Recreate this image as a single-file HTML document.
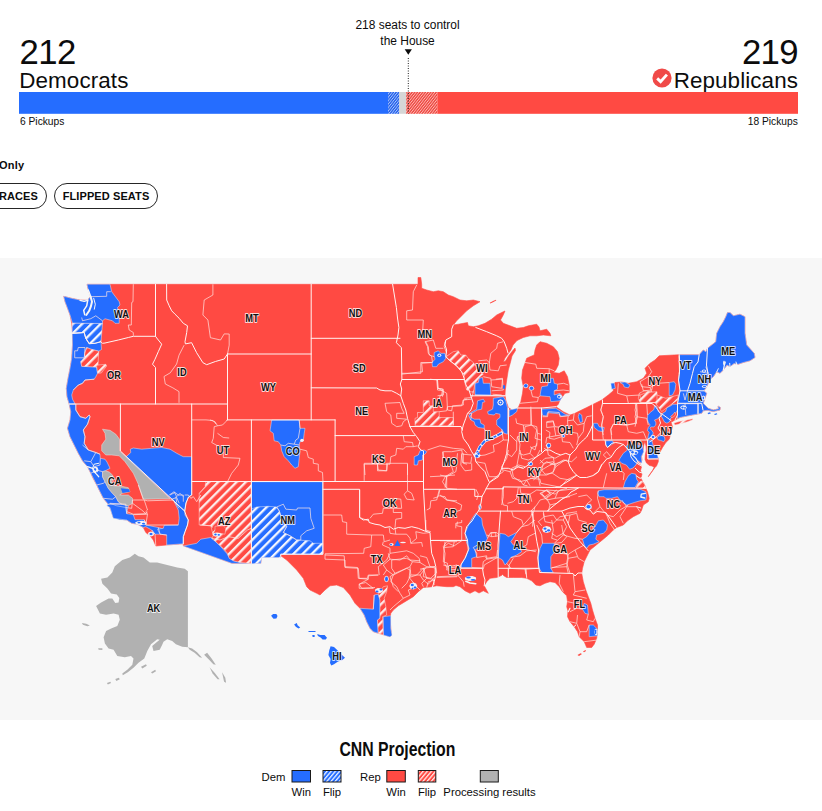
<!DOCTYPE html>
<html><head><meta charset="utf-8"><title>House results</title>
<style>
html,body{margin:0;padding:0;background:#fff;}
body{width:822px;height:811px;position:relative;overflow:hidden;font-family:"Liberation Sans",sans-serif;color:#0c0c0c;}
.abs{position:absolute;white-space:nowrap;}
.num{font-size:34.7px;line-height:34px;letter-spacing:-0.6px;}
.party{font-size:22.4px;line-height:22px;letter-spacing:0.1px;}
.small{font-size:11px;line-height:11px;transform-origin:0 0;}
.btn{position:absolute;top:182.5px;height:24px;border:1px solid #262626;border-radius:13px;font-weight:bold;font-size:11px;line-height:24px;letter-spacing:0.1px;box-sizing:content-box;text-align:center;}
</style></head><body>
<!-- header -->
<div class="abs num" style="left:19.5px;top:34.6px;">212</div>
<div class="abs party" style="left:19.3px;top:70px;">Democrats</div>
<div class="abs num" style="right:24px;top:34.6px;">219</div>
<div class="abs party" style="right:24px;top:70px;">Republicans</div>
<svg class="abs" style="left:651.7px;top:68px" width="20" height="20" viewBox="0 0 20 20"><circle cx="10" cy="10" r="9.6" fill="#f04a48"/><path d="M5.2 10.4 L8.6 13.6 L14.9 6.6" fill="none" stroke="#fff" stroke-width="2.9" stroke-linecap="butt" stroke-linejoin="miter"/></svg>
<div class="abs" id="ctl" style="left:308px;width:200px;top:18px;text-align:center;font-size:12.5px;line-height:15.8px;white-space:normal;"><span style="display:inline-block;transform:scaleX(0.955);">218 seats to control<br>the House</span></div>
<svg class="abs" style="left:0;top:0" width="822" height="130" viewBox="0 0 822 130">
<defs>
<pattern id="hb" width="2.1" height="2.1" patternUnits="userSpaceOnUse" patternTransform="rotate(-52)"><rect width="2.1" height="2.1" fill="#1f5ce8"/><rect width="2.1" height="0.85" fill="#a9c5ff"/></pattern>
<pattern id="hr" width="2.1" height="2.1" patternUnits="userSpaceOnUse" patternTransform="rotate(-52)"><rect width="2.1" height="2.1" fill="#ec443e"/><rect width="2.1" height="0.85" fill="#ffb9b3"/></pattern>
</defs>
<rect x="19" y="92" width="369.5" height="21.8" fill="#256dff"/>
<rect x="388.2" y="92" width="11.2" height="21.8" fill="url(#hb)"/>
<rect x="399.3" y="92" width="6.9" height="21.8" fill="#d6d6d6"/>
<rect x="406.2" y="92" width="31.3" height="21.8" fill="url(#hr)"/>
<rect x="437.4" y="92" width="360.6" height="21.8" fill="#ff4a43"/>
<polygon points="404.7,49.3 411.9,49.3 408.3,54.8" fill="#0c0c0c"/>
<line x1="408.3" y1="58" x2="408.3" y2="113.5" stroke="#222" stroke-width="1" stroke-dasharray="1 1.5"/>
</svg>
<div class="abs small" style="left:20px;top:116px;transform:scaleX(0.93);">6 Pickups</div>
<div class="abs small" style="right:24px;top:116px;transform:scaleX(0.93);transform-origin:100% 0;">18 Pickups</div>
<div class="abs" style="left:-1px;top:159px;font-weight:bold;font-size:11px;line-height:12px;letter-spacing:0.2px;">Only</div>
<div class="btn" style="left:-30px;width:75px;"><span style="position:absolute;right:8px;top:0">RACES</span></div>
<div class="btn" style="left:54px;width:102px;">FLIPPED SEATS</div>
<!-- map -->
<div class="abs" style="left:0;top:258px;width:822px;height:462px;background:#f7f7f7;"></div>
<svg class="abs" style="left:0;top:258px" width="822" height="462" viewBox="0 258 822 462">
<defs>
<pattern id="mhb" width="6.5" height="6.5" patternUnits="userSpaceOnUse" patternTransform="rotate(-45)"><rect width="6.5" height="6.5" fill="#256dff"/><rect y="0" width="6.5" height="2.3" fill="#f3f6ff"/></pattern>
<pattern id="mhr" width="6.5" height="6.5" patternUnits="userSpaceOnUse" patternTransform="rotate(-45)"><rect width="6.5" height="6.5" fill="#ff4a43"/><rect y="0" width="6.5" height="2.3" fill="#fdeceb"/></pattern>
</defs>
<polygon points="87.0,284.3 418.0,284.3 418.0,277.5 420.8,277.5 421.7,284.2 421.7,288.3 426.7,290.0 433.3,291.7 438.3,290.8 443.3,291.7 448.3,295.0 453.3,296.7 460.0,300.0 466.7,300.8 473.3,300.0 480.0,301.7 473.3,305.8 466.7,310.8 460.8,316.7 456.7,320.8 453.3,325.0 458.3,324.2 463.3,323.3 467.5,322.5 468.3,325.8 473.3,326.7 478.3,325.8 485.0,323.3 491.7,319.2 496.7,315.0 501.7,312.5 505.0,311.0 503.0,315.5 500.5,320.0 503.3,323.3 510.0,325.8 516.7,328.3 523.3,327.5 528.3,325.8 536.7,324.2 539.0,327.0 540.0,330.8 546.7,329.2 550.0,333.3 550.8,335.8 543.3,335.0 536.7,335.8 530.0,335.8 523.3,337.5 517.0,340.5 513.0,345.0 510.9,350.0 508.0,354.0 505.0,358.0 503.3,362.0 505.5,361.0 508.5,356.0 512.0,351.5 515.0,348.0 515.5,350.5 512.0,356.0 510.5,362.0 508.3,370.0 506.7,380.0 505.3,390.0 505.0,395.0 505.8,400.0 508.3,407.5 513.3,410.8 518.3,407.5 520.8,401.7 522.5,393.3 523.3,386.7 521.7,378.3 522.5,370.0 525.0,363.3 526.7,358.3 530.0,356.7 534.2,355.0 535.0,350.0 536.7,345.0 540.0,341.7 546.7,343.3 553.3,346.7 557.5,351.7 559.2,358.3 558.3,365.0 555.8,370.0 553.3,372.5 559.2,373.3 564.2,370.8 567.5,376.7 569.2,385.0 569.2,392.5 565.0,393.3 562.5,396.7 560.0,400.0 558.3,404.2 555.8,406.7 558.3,408.3 563.3,411.7 570.0,415.0 575.0,413.3 580.0,410.8 586.7,407.5 593.3,404.2 601.7,400.0 608.3,395.0 613.3,390.8 612.5,385.0 615.0,382.5 621.7,382.0 628.3,383.3 636.7,381.7 643.3,378.3 646.7,373.3 645.0,368.3 650.0,363.3 655.0,360.0 659.2,355.8 679.2,354.7 699.2,354.7 703.3,350.0 705.8,351.7 707.5,348.3 711.7,345.0 715.8,341.7 716.7,333.3 720.0,326.7 723.3,321.7 725.8,316.7 727.5,312.5 730.0,312.5 733.3,315.8 740.0,314.2 745.0,316.7 745.0,333.3 746.7,345.0 754.2,353.3 755.0,357.5 750.0,360.8 743.3,362.5 738.3,364.2 734.0,363.5 730.0,366.7 727.0,365.0 723.3,370.0 720.0,373.3 716.7,371.7 713.3,376.7 710.0,380.0 708.0,384.0 706.0,388.0 703.8,390.8 706.7,393.3 705.0,398.3 703.3,403.3 708.3,408.3 713.3,410.0 718.5,408.8 718.0,406.0 720.3,407.5 720.0,410.0 713.3,411.5 707.5,410.3 703.3,410.8 701.7,413.3 696.7,414.2 688.3,415.8 680.0,417.5 675.0,420.0 671.0,422.3 672.5,426.7 670.8,433.3 669.2,439.2 665.8,442.5 662.5,447.5 658.3,455.0 654.0,449.0 650.5,444.5 649.5,442.0 651.5,446.0 654.0,451.0 657.0,456.5 658.3,458.3 658.3,461.7 656.5,466.0 655.0,467.5 651.0,473.0 648.3,476.7 650.0,474.0 652.5,470.5 654.2,467.2 652.0,466.0 649.5,465.5 646.5,463.0 645.0,459.5 645.3,455.0 646.3,450.0 646.0,446.0 644.8,441.5 643.6,446.0 643.0,452.0 641.5,456.5 642.0,460.0 640.5,463.5 641.5,467.0 640.5,470.5 642.0,474.0 641.0,478.0 642.5,481.5 644.5,484.5 645.8,488.3 647.5,491.7 649.2,498.3 648.3,501.7 643.3,505.0 641.7,510.0 640.0,513.3 633.3,516.7 627.5,520.8 623.3,525.0 616.7,527.5 613.3,530.0 608.3,535.0 603.3,539.2 598.3,543.3 594.2,546.7 590.0,550.0 587.5,555.0 584.2,561.7 582.5,568.3 581.7,573.3 583.3,581.7 585.8,590.0 588.3,596.7 590.8,603.3 592.5,610.0 595.0,618.3 597.5,625.0 597.5,631.7 596.7,638.3 594.2,644.2 591.7,647.5 586.7,647.5 584.2,641.7 579.2,636.7 577.5,631.7 574.2,626.7 570.0,621.7 567.5,616.7 568.0,611.0 566.7,606.7 567.5,601.7 566.7,595.8 562.5,591.7 559.2,586.7 555.0,582.5 550.0,581.7 545.0,583.3 540.0,585.8 535.8,585.0 531.7,580.8 526.7,578.3 521.7,577.5 513.3,577.5 506.7,577.5 502.5,575.0 496.7,577.5 490.0,578.3 486.7,581.7 484.2,585.8 486.0,589.0 488.3,593.3 483.3,590.8 479.0,593.0 475.0,590.8 470.0,593.3 465.0,590.8 460.0,586.7 456.0,585.5 453.3,586.7 446.7,586.7 436.7,585.8 430.0,587.0 423.3,587.5 418.3,591.7 413.3,596.7 405.0,601.7 398.3,605.8 393.3,610.0 390.8,613.3 390.0,618.3 390.8,628.3 391.5,635.0 390.0,636.7 383.0,634.5 378.3,633.3 373.3,631.7 370.0,628.3 366.7,621.7 364.2,615.0 360.0,608.3 355.0,603.3 350.0,595.0 343.3,587.5 336.7,585.0 330.0,585.8 325.0,590.0 320.0,595.0 316.7,593.3 310.0,590.0 306.7,586.7 303.3,578.3 296.7,570.0 286.7,560.0 280.8,555.8 280.0,557.5 261.7,557.5 260.8,563.3 251.4,563.5 232.0,563.3 183.3,545.8 183.3,543.8 166.7,545.0 155.8,546.0 153.3,540.0 150.0,535.8 145.8,532.5 143.3,527.5 137.5,524.2 131.7,523.3 126.7,520.0 120.0,519.2 113.3,517.5 110.8,510.0 107.5,503.3 103.3,498.3 100.0,491.7 96.7,485.0 93.0,478.0 90.8,473.3 87.5,466.7 82.5,460.8 78.3,453.3 75.0,446.7 70.0,436.7 67.5,428.3 70.0,420.0 70.8,411.7 69.2,404.2 67.0,396.7 66.3,388.3 68.0,378.3 70.0,368.3 71.7,358.3 72.5,345.0 72.5,333.3 71.7,323.3 70.0,315.0 67.5,308.3 65.0,301.7 63.7,296.3 71.7,298.3 80.0,300.0 87.7,300.3 90.5,296.3 88.3,290.0" fill="#ff4a43" stroke="#ff4a43" stroke-width="0.6" stroke-linejoin="round"/>
<g fill="#256dff" stroke="#dfe6f5" stroke-width="0.5" stroke-linejoin="round">
<polygon points="87.0,284.2 110.0,284.2 111.7,291.7 119.2,301.7 120.0,305.0 117.5,307.5 119.2,313.3 119.2,323.3 115.0,323.3 112.5,320.8 105.0,318.7 102.5,320.8 102.5,323.7 72.5,323.3 70.0,315.0 67.5,308.3 65.0,301.7 63.7,296.3 71.7,298.3 80.0,300.0 87.7,300.3 90.5,296.3 88.3,290.0"/>
<polygon points="72.2,333.3 84.2,332.5 85.8,338.3 89.2,343.7 95.0,343.3 101.0,341.7 101.5,349.5 98.7,351.2 90.8,349.2 86.7,347.5 84.7,353.3 84.7,357.5 80.8,361.7 81.7,366.3 96.7,367.0 97.5,373.3 95.8,376.7 94.2,379.2 85.0,380.0 82.5,383.3 78.3,385.0 73.3,390.0 71.7,395.0 72.5,399.2 75.0,403.8 69.2,404.2 67.0,396.7 66.3,388.3 68.0,378.3 70.0,368.3 71.7,358.3 72.5,345.0"/>
<polygon points="69.2,404.2 70.8,411.7 70.0,420.0 67.5,428.3 70.0,436.7 75.0,446.7 78.3,453.3 82.5,460.8 87.5,466.7 90.8,473.3 93.3,478.3 96.7,485.0 100.0,491.7 103.3,498.3 107.5,503.3 110.8,510.0 113.3,517.5 119.2,519.7 126.7,520.3 127.0,511.7 128.3,505.8 121.7,504.2 118.3,501.7 115.8,496.7 112.5,493.3 108.3,488.3 105.0,481.7 102.5,476.7 102.5,471.7 105.3,470.8 110.0,468.3 107.0,462.0 105.0,459.2 100.3,458.3 100.0,454.2 95.8,452.5 88.3,450.0 84.2,443.3 85.0,436.7 83.3,430.0 87.5,424.2 90.0,416.7 89.2,415.0 85.8,418.3 80.0,416.7 75.8,410.0 75.8,404.2"/>
<polygon points="125.8,457.0 130.8,452.5 130.3,449.2 133.3,448.0 141.7,449.2 151.7,448.3 161.7,447.5 170.0,449.2 176.7,453.3 183.3,456.7 191.7,456.7 191.7,495.0 188.5,497.0 186.0,503.0 184.7,511.2"/>
<polygon points="106.7,505.8 110.0,503.3 116.7,505.8 125.8,507.5 126.7,513.7 133.3,514.7 135.0,519.7 144.2,519.7 145.8,525.0 158.3,527.5 164.2,529.2 163.3,532.0 160.0,534.2 155.0,534.2 151.7,530.0 145.8,526.7 143.3,527.5 137.5,524.2 131.7,523.3 126.7,520.0 120.0,519.2 113.3,518.3 111.7,513.3 110.0,507.5 106.7,505.8"/>
<polygon points="184.7,511.2 185.0,515.0 188.3,520.0 187.5,525.0 185.0,531.7 183.3,536.7 183.3,543.8 166.7,545.0 166.7,535.0 160.0,534.2 157.5,529.2 163.3,528.3 164.2,525.3 178.3,525.0 179.2,518.3 178.3,510.0 174.2,501.7"/>
<polygon points="183.3,546.0 196.7,543.3 200.8,539.2 210.8,537.5 215.0,540.8 220.0,545.8 226.7,553.3 229.2,557.5 234.2,560.8 241.7,562.5 251.3,563.7 231.7,563.3"/>
<polygon points="251.3,481.7 322.7,481.7 322.7,554.2 280.8,554.2 280.0,557.5 261.7,557.5 260.8,563.3 251.3,563.7"/>
<polygon points="360.0,608.3 373.3,609.2 374.2,595.0 378.3,594.2 380.0,600.0 380.0,618.3 377.5,620.0 378.3,633.3 373.3,631.7 370.0,628.3 366.7,621.7 364.2,615.0"/>
<polygon points="383.3,616.7 390.8,615.8 390.8,628.3 392.0,635.3 390.0,637.0 383.3,635.0"/>
<polygon points="475.8,513.3 481.7,518.3 482.5,525.0 485.0,531.7 487.5,538.3 485.0,543.3 477.5,548.3 475.0,550.0 476.7,556.7 471.7,558.3 471.7,567.5 460.8,567.5 461.7,563.3 465.8,556.7 469.2,548.3 466.7,543.3 465.0,533.3 469.2,523.3 473.3,516.7"/>
<polygon points="500.0,533.3 505.0,534.2 508.3,536.7 516.7,532.5 514.2,536.7 510.8,541.7 513.3,545.0 520.0,548.3 521.7,551.7 516.7,555.0 510.8,557.5 506.7,563.3 505.0,565.0 502.5,560.0 498.3,557.5 499.2,545.0"/>
<polygon points="542.5,543.3 554.2,543.3 554.2,552.5 550.8,556.7 550.8,568.3 553.3,572.5 541.7,572.5 538.3,566.7 538.3,556.7 540.0,548.3"/>
<polygon points="582.5,539.2 586.7,536.7 590.0,532.5 595.0,526.7 598.3,520.8 603.3,520.0 607.5,525.0 606.7,530.0 603.3,533.3 596.7,535.0 595.8,539.2 599.2,541.7 593.3,544.2 589.2,545.0 586.7,548.3 584.2,545.0"/>
<polygon points="584.2,603.3 587.5,605.0 588.3,614.2 585.0,613.3 582.5,609.2"/>
<polygon points="589.2,625.0 593.3,625.0 597.5,629.2 597.5,635.8 589.2,636.7"/>
<polygon points="598.3,490.8 604.2,489.7 617.5,489.7 640.0,489.2 645.8,491.7 646.7,495.8 645.8,500.0 640.0,500.8 634.2,502.5 626.7,505.0 624.2,503.3 620.0,500.0 617.5,496.7 614.2,497.5 611.7,498.3 605.8,498.3 604.2,496.7 599.2,496.7 597.5,493.3"/>
<polygon points="585.8,505.8 590.8,504.2 591.7,508.3 587.5,510.0"/>
<polygon points="623.3,487.5 625.0,481.7 628.3,475.8 631.7,473.3 635.8,474.2 636.7,479.2 638.3,481.7 635.0,487.5"/>
<polygon points="620.0,458.3 623.3,453.3 627.5,450.0 625.8,447.0 627.5,444.7 642.5,445.3 643.7,451.7 641.3,456.7 642.0,463.3 638.0,460.8 635.8,465.0 633.0,468.0 629.7,469.2 626.3,465.0 621.7,463.3 618.8,460.3"/>
<polygon points="605.8,440.8 612.5,440.8 613.7,443.0 610.0,445.8 607.5,447.5 605.8,445.0"/>
<polygon points="648.0,440.3 651.7,440.0 653.3,445.8 656.7,451.7 658.3,458.3 648.3,459.0 648.0,450.0"/>
<polygon points="593.3,423.3 597.5,423.3 599.2,426.7 604.2,427.5 603.3,431.7 598.3,430.8 594.2,427.5"/>
<polygon points="679.2,354.7 699.2,354.7 703.3,350.0 705.8,351.7 707.5,348.3 711.7,345.0 715.8,341.7 716.7,333.3 720.0,326.7 723.3,321.7 725.8,316.7 727.5,312.5 730.0,312.5 733.3,315.8 740.0,314.2 745.0,316.7 745.0,333.3 746.7,345.0 754.2,353.3 755.0,357.5 750.0,360.8 743.3,362.5 738.3,364.2 734.0,363.5 730.0,366.7 727.0,365.0 723.3,370.0 720.0,373.3 716.7,371.7 713.3,376.7 710.0,380.0 708.0,384.0 706.0,388.0 703.8,390.8 706.7,393.3 705.0,398.3 703.3,403.3 708.3,408.3 713.3,410.0 718.5,408.8 718.0,406.0 720.3,407.5 720.0,410.0 713.3,411.5 707.5,410.3 703.3,410.8 701.7,413.3 696.7,414.2 688.3,415.8 680.0,417.5 677.5,418.7 677.5,403.3 680.0,390.8 678.5,380.0 679.5,372.0"/>
<polygon points="669.2,382.5 674.2,381.7 675.8,384.2 675.0,390.0 672.5,395.0 669.2,395.8 669.2,390.0"/>
<polygon points="647.7,415.1 650.8,412.0 653.9,409.6 654.5,405.9 656.4,405.9 657.6,409.0 658.8,411.4 660.7,413.9 660.1,416.4 657.6,418.8 654.5,420.0 655.8,422.5 655.8,425.0 653.9,426.9 650.8,426.9 649.9,428.7 652.0,430.6 653.3,433.0 652.0,436.1 649.6,438.6 647.7,439.2 648.3,435.5 649.3,432.4 647.4,430.6 648.3,427.5 650.2,425.0 648.3,422.5 647.4,419.5"/>
<polygon points="657.0,438.0 658.8,436.1 661.9,435.5 664.4,436.7 665.0,439.2 663.8,441.7 660.7,440.4 658.2,439.8"/>
<polygon points="662.5,413.3 665.6,411.4 666.9,407.7 670.6,405.9 673.0,404.3 677.5,404.3 677.5,410.0 675.5,413.3 673.0,416.4 670.6,418.2 670.6,419.5 669.3,421.9 666.9,423.2 664.4,421.9 663.2,419.5 661.3,416.4"/>
<polygon points="541.7,386.7 547.5,385.8 549.2,378.3 553.3,378.3 554.2,383.3 557.5,384.2 557.5,389.2 554.2,390.8 554.2,395.0 560.0,393.3 562.5,396.7 560.0,400.8 550.8,401.7 550.0,396.7 540.0,395.8 540.8,390.8"/>
<polygon points="541.7,409.2 555.8,408.3 560.0,410.8 565.0,414.2 570.0,415.3 561.7,416.2 558.3,413.7 547.5,412.7 546.7,416.0 542.5,415.3"/>
<polygon points="579.2,413.3 581.7,415.0 582.5,421.7 580.0,422.5 578.3,416.7"/>
<polygon points="610.8,383.3 614.2,383.0 615.3,388.3 611.7,389.3"/>
<polygon points="620.0,382.5 625.0,382.0 630.0,385.0 628.3,387.8 624.2,387.0 623.3,384.5"/>
<polygon points="475.0,383.3 478.3,382.5 479.2,378.3 482.5,377.5 483.3,383.3 490.0,383.3 490.8,395.0 475.0,395.0"/>
<polygon points="493.3,398.3 503.3,396.7 505.8,400.8 507.5,407.5 507.5,434.2 504.2,433.3 501.7,429.2 496.7,425.0 496.7,420.0 500.0,417.5 500.0,414.2 495.8,413.3 494.2,415.0 488.3,414.2 487.5,411.7 492.5,409.2 493.3,405.0"/>
<polygon points="477.5,400.8 483.3,399.2 485.0,401.7 482.5,402.5 481.7,409.2 477.5,410.0 471.7,413.3 470.0,416.7 474.2,419.2 480.0,419.2 480.8,423.3 484.2,425.0 484.2,428.3 478.3,427.5 475.0,425.0 474.2,421.7 470.8,420.0 468.7,415.8 470.8,412.5 476.7,409.2"/>
<polygon points="509.2,410.0 517.5,408.3 516.7,411.7 512.5,415.0 509.2,416.7"/>
<polygon points="434.2,352.5 438.3,350.8 440.8,353.3 445.0,353.3 445.8,358.3 443.3,361.7 438.3,364.2 436.7,366.7 432.5,366.7 432.0,362.5 435.0,359.2 434.2,355.8"/>
<polygon points="414.2,456.7 418.3,455.0 420.0,450.8 424.2,450.0 426.7,451.7 425.0,454.2 422.5,455.0 422.5,460.0 418.3,460.8 417.5,465.0 414.2,465.0"/>
<polygon points="271.7,420.0 299.2,420.0 300.0,428.3 305.0,428.3 304.2,433.3 303.3,440.8 300.0,441.7 299.2,445.0 300.0,451.7 299.2,458.3 298.3,466.7 295.0,468.3 291.7,465.0 288.3,460.8 284.2,456.7 281.7,450.8 280.8,445.0 278.3,441.7 274.2,440.8 273.3,433.3 270.0,430.8"/>
</g>
<g fill="url(#mhb)" stroke="#e8edfa" stroke-width="0.5">
<polygon points="72.2,323.2 102.5,323.5 101.8,331.7 101.0,341.7 95.0,343.3 89.2,343.7 85.8,338.3 84.2,332.5 72.2,333.3"/>
<polygon points="251.3,509.2 256.7,507.0 268.3,506.3 276.7,507.0 279.2,510.8 280.8,515.8 286.7,526.7 283.3,532.5 290.0,535.8 296.7,540.0 310.0,540.8 313.3,543.3 322.7,543.3 322.7,554.2 280.8,554.2 280.0,557.5 261.7,557.5 260.8,563.3 251.3,563.7"/>
</g>
<g fill="url(#mhr)" stroke="#fbe3e1" stroke-width="0.5">
<polygon points="86.7,347.5 90.8,349.2 98.7,351.2 98.0,365.0 105.8,364.3 106.7,366.0 101.3,373.0 97.7,373.3 96.7,367.0 81.7,366.3 80.8,361.7 84.7,357.5 84.7,353.3"/>
<polygon points="205.8,481.7 251.3,481.7 251.3,563.3 240.0,562.5 233.3,560.8 229.2,558.3 227.5,553.3 223.3,548.3 217.5,543.3 211.7,538.3 213.3,535.8 210.8,525.8 199.2,525.0 199.2,493.3 205.0,486.7"/>
<polygon points="380.0,600.0 378.3,594.2 383.3,586.7 387.5,585.8 386.7,591.7 384.2,598.3 385.8,606.7 386.7,615.0 382.5,616.7 383.3,635.0 378.3,633.3 377.5,620.0 380.0,618.3"/>
<polygon points="636.0,487.8 638.0,483.5 641.0,481.0 642.5,481.5 644.5,484.5 645.8,488.3"/>
<polygon points="639.2,393.3 644.2,390.8 651.7,391.7 655.0,394.2 665.8,398.3 671.7,396.7 678.3,395.0 677.5,400.0 671.7,404.2 665.8,408.3 661.7,411.7 658.3,406.7 655.0,402.5 640.0,402.5 638.3,398.3"/>
<polygon points="673.7,423.0 680.0,421.3 686.7,420.0 692.5,418.7 693.0,419.7 687.5,421.7 680.8,423.7 675.0,425.0"/>
<polygon points="640.0,395.0 646.7,392.5 657.0,391.7 657.0,402.5 640.8,402.5"/>
<polygon points="415.0,425.8 415.0,418.3 417.5,417.5 417.5,412.5 423.3,412.5 423.3,400.8 429.2,400.8 429.2,405.8 433.3,405.8 433.3,411.7 439.2,411.7 439.2,417.5 453.3,417.5 453.3,425.8"/>
<polygon points="445.8,356.7 453.3,351.7 458.3,350.8 460.8,355.0 465.8,355.0 467.5,357.5 473.3,362.5 475.8,365.8 478.3,370.0 483.3,374.2 480.0,376.7 475.0,383.3 473.3,392.5 466.7,390.0 464.2,380.0 464.2,375.0 460.0,370.0 455.0,365.0 448.3,359.2"/>
</g>
<g fill="#b1b1b1" stroke="#e6e6e6" stroke-width="0.5">
<polygon points="102.5,429.2 110.0,430.3 115.8,434.2 119.5,439.2 119.5,450.8 170.0,498.8 143.3,499.2 138.3,484.2 133.3,473.3 125.0,461.7 119.2,455.8 111.7,455.0 105.8,455.0 101.7,450.8 101.7,445.0 105.8,439.2 105.0,433.3"/>
<polygon points="102.5,471.7 105.3,470.8 109.2,472.0 112.5,475.0 113.3,478.3 111.7,481.7 113.3,485.8 121.7,486.3 128.3,487.7 130.0,491.7 122.5,493.3 119.7,495.0 128.3,495.0 132.5,498.3 132.5,503.3 128.3,505.8 121.7,504.2 118.3,501.7 115.8,496.7 112.5,493.3 108.3,488.3 105.0,481.7 102.5,476.7"/>
</g>
<g fill="#ff4a43" stroke="#fbd5d2" stroke-width="0.5">
<polygon points="215.0,526.3 223.3,525.8 225.8,528.3 225.0,534.2 220.0,533.3 218.3,535.8 215.0,536.7 213.3,533.3 215.0,530.0"/>
<polygon points="670.6,416.4 673.0,414.5 674.9,412.0 675.8,413.9 674.3,416.4 671.8,417.6"/>
</g>
<g fill="none" stroke="#ffe6e4" stroke-width="0.7" stroke-linejoin="round">
<polyline points="90.8,296.7 106.7,296.3 106.7,291.7 110.8,291.7"/>
<polyline points="81.7,317.5 82.5,320.8 90.8,318.7 95.8,315.8 102.5,320.8"/>
<polyline points="133.3,284.2 133.0,301.7 131.7,302.5 131.3,325.0 128.3,325.0 129.2,330.0 133.3,332.5 133.3,335.8"/>
<polyline points="74.7,350.8 77.5,350.8 78.3,347.5 85.0,347.5 84.7,353.3 84.2,357.8 74.7,357.8 74.7,350.8"/>
<polyline points="72.2,333.3 84.2,332.5 85.8,338.3 89.2,343.7"/>
<polyline points="94.2,379.2 85.0,380.0 82.5,383.3 78.3,385.0 73.3,390.0"/>
<polyline points="191.7,419.9 206.0,419.9 213.0,420.5 216.0,424.0"/>
<polyline points="184.1,345.2 179.0,355.2 176.6,364.0 170.3,372.8 164.0,376.5 165.3,384.0 172.8,387.8 179.0,391.6 179.0,402.8"/>
<polyline points="212.9,284.3 212.9,295.0 204.2,300.0 202.9,315.0 207.9,320.0 210.4,337.7 220.5,340.0 224.2,333.9 229.2,334.0 229.2,345.2 227.5,354.0"/>
<polyline points="75.8,404.2 75.8,410.0 80.0,416.7 85.8,418.3 89.2,415.0 90.0,416.7 87.5,424.2 83.3,430.0 85.0,436.7 84.2,443.3 88.3,450.0 95.8,452.5 100.0,454.2"/>
<polyline points="82.5,445.0 88.3,450.0"/>
<polyline points="84.2,460.8 90.8,461.7 95.8,452.5"/>
<polyline points="90.8,461.7 94.2,466.7 100.0,465.0 100.3,458.3"/>
<polyline points="90.8,473.3 96.7,470.0 102.5,471.7"/>
<polyline points="96.7,485.0 103.3,483.3 105.0,481.7"/>
<polyline points="103.3,498.3 112.5,499.2 115.8,496.7"/>
<polyline points="108.3,504.2 121.7,504.2"/>
<polyline points="127.0,511.7 133.3,514.2 145.8,513.7 147.5,511.7"/>
<polyline points="132.5,503.3 141.7,510.0 145.8,513.7"/>
<polyline points="138.3,485.0 143.3,499.2"/>
<polyline points="170.0,495.0 175.0,492.5 178.3,495.0 183.3,495.0 183.3,501.7"/>
<polyline points="171.7,499.2 176.7,497.5 179.2,503.3"/>
<polyline points="110.0,503.3 125.8,504.2 126.7,513.7"/>
<polyline points="125.8,507.5 131.7,508.3 132.5,500.0 144.2,500.0 147.5,500.8"/>
<polyline points="144.2,500.0 147.5,510.0 145.8,511.7 147.5,514.2 145.8,525.0"/>
<polyline points="147.5,500.8 173.3,500.0 179.2,508.3"/>
<polyline points="133.3,514.7 147.5,514.2"/>
<polyline points="145.8,525.0 178.3,525.0"/>
<polyline points="158.3,527.5 160.0,534.2 166.7,535.0"/>
<polyline points="151.7,530.0 155.0,534.2 155.8,545.8"/>
<polyline points="144.2,519.7 145.8,525.0"/>
<polyline points="184.7,495.0 188.3,495.0 190.8,498.3 193.3,496.7 196.7,501.7 200.8,495.0"/>
<polyline points="200.0,525.0 211.7,525.8 212.5,527.5"/>
<polyline points="169.2,495.0 174.2,491.7 176.7,496.7 180.0,493.3 183.3,496.7"/>
<polyline points="175.8,496.7 176.7,502.5"/>
<polyline points="211.7,538.3 220.0,540.0 228.3,536.7 238.3,538.3 247.5,530.0 251.3,528.3"/>
<polyline points="276.7,507.0 283.3,504.2 285.8,509.2 296.7,510.0 297.5,508.0 310.0,508.0 310.8,518.3 314.2,528.3 306.7,530.8 300.8,535.8 300.8,540.0 296.7,540.0"/>
<polyline points="276.7,507.0 279.2,510.8 280.8,515.8 286.7,526.7 283.3,532.5 290.0,535.8 296.7,540.0"/>
<polyline points="210.0,420.0 215.0,421.7 217.5,425.8 214.2,426.7 213.3,438.3 211.7,442.5 217.5,445.8 218.3,451.7"/>
<polyline points="217.5,425.8 222.5,425.0 225.8,421.7 227.0,419.7"/>
<polyline points="217.5,433.3 223.3,437.5 229.2,438.0"/>
<polyline points="223.3,451.7 223.3,457.5 240.0,458.3 238.3,465.0 231.7,473.3 227.5,481.7"/>
<polyline points="300.0,449.2 306.7,450.8 308.3,457.5 313.3,459.2 313.3,463.3 318.3,464.2 318.3,470.8 322.5,472.5 323.0,481.7"/>
<polyline points="280.8,445.0 285.0,445.8 288.3,443.3 294.2,444.2 299.2,445.0"/>
<polyline points="299.2,420.0 300.0,428.3 298.3,438.3 295.8,440.0 294.2,444.2"/>
<polyline points="385.0,403.3 400.0,402.5 401.7,408.3 404.2,413.3 396.7,413.3 396.7,418.3 406.7,419.2"/>
<polyline points="385.0,403.3 386.7,411.7 390.8,415.0 391.7,423.3 396.7,426.7 401.7,425.8 403.3,421.7 406.7,419.2"/>
<polyline points="403.3,435.8 404.2,441.7 412.5,442.5 413.3,446.7 417.5,445.8"/>
<polyline points="364.2,464.2 390.0,464.2 390.8,456.7 395.8,455.0 396.7,448.3 403.3,449.2 405.8,446.7 413.3,446.7"/>
<polyline points="377.5,464.2 378.3,470.0 386.7,470.8 387.5,464.2"/>
<polyline points="407.5,464.2 407.5,475.0"/>
<polyline points="364.2,464.2 365.0,475.0"/>
<polyline points="436.7,380.0 437.5,388.3 443.3,389.2 443.3,395.0 440.0,395.8 439.2,400.8"/>
<polyline points="439.2,411.7 446.7,410.8 447.5,406.7 461.7,405.8 463.3,400.0 467.0,399.2"/>
<polyline points="420.8,362.5 420.8,373.3 401.7,373.3"/>
<polyline points="420.8,362.5 431.7,362.5"/>
<polyline points="425.8,341.7 428.3,346.7 429.2,355.0 434.2,356.7"/>
<polyline points="445.0,341.7 444.2,346.7 446.7,353.3"/>
<polyline points="427.5,450.0 440.0,445.8 453.3,448.3 463.3,449.2 467.0,453.3"/>
<polyline points="443.3,451.7 443.3,460.0 456.7,460.8 457.5,453.3"/>
<polyline points="463.3,453.3 463.3,463.3 467.0,464.2"/>
<polyline points="416.7,285.0 413.3,291.7 412.5,310.0 406.7,310.8 406.7,320.0 423.3,320.0 422.5,334.2"/>
<polyline points="425.0,341.7 427.5,346.7 428.3,353.3 431.7,356.7 432.5,362.5"/>
<polyline points="425.0,341.7 433.3,340.0 435.8,348.3 443.3,348.3"/>
<polyline points="421.7,363.3 422.5,371.7 401.7,374.2"/>
<polyline points="421.7,363.3 432.5,362.5"/>
<polyline points="437.5,380.0 437.5,390.0 443.3,390.8 442.5,396.7"/>
<polyline points="490.8,353.3 496.7,348.3 497.5,343.3 503.3,341.7"/>
<polyline points="490.8,353.3 489.2,363.3 490.0,370.0 498.3,370.8 500.0,365.8 506.7,365.0"/>
<polyline points="483.3,376.7 490.8,378.3 491.7,386.7 501.7,388.3 502.5,378.3 495.8,379.2"/>
<polyline points="478.3,360.8 486.7,360.0 490.0,363.3"/>
<polyline points="464.2,398.3 471.7,397.5 473.3,392.5"/>
<polyline points="492.5,394.2 501.7,395.0"/>
<polyline points="430.0,379.2 437.5,380.0 438.3,388.3 442.5,389.2 441.7,395.0 437.5,395.8"/>
<polyline points="438.3,388.3 446.7,393.3 447.5,410.0 451.7,410.8 452.5,405.8 463.3,405.0 463.3,400.0 471.7,399.2"/>
<polyline points="453.3,411.7 453.3,425.0"/>
<polyline points="490.8,380.0 502.5,379.2 503.3,390.0 491.7,390.8"/>
<polyline points="475.0,395.0 505.0,395.8"/>
<polyline points="467.5,413.3 471.7,413.3 470.8,420.0"/>
<polyline points="484.2,428.3 487.5,436.7 485.0,440.8"/>
<polyline points="501.7,429.2 503.3,440.0 498.3,443.3 493.3,445.0 494.2,451.7 485.0,455.0 478.3,455.8"/>
<polyline points="475.8,461.7 485.0,463.3 486.7,470.0 489.2,476.7 498.3,476.7"/>
<polyline points="503.3,440.0 508.3,440.0"/>
<polyline points="515.8,418.3 516.7,423.3 523.3,425.0 524.2,435.0 517.5,436.7 516.7,441.7"/>
<polyline points="530.8,409.2 530.8,425.0 523.3,425.0"/>
<polyline points="530.8,425.0 536.7,426.7 537.5,433.3 540.8,434.2"/>
<polyline points="517.5,436.7 520.0,444.2 519.2,453.3 523.3,455.0 530.0,453.3 531.7,447.5 536.7,445.8 537.5,433.3"/>
<polyline points="510.0,435.0 516.7,441.7 516.7,450.0 511.7,456.7 506.7,453.3"/>
<polyline points="519.2,453.3 516.7,466.7"/>
<polyline points="530.0,453.3 533.3,456.7"/>
<polyline points="546.7,422.5 553.3,421.7 555.0,426.7 561.7,427.5"/>
<polyline points="545.8,430.0 550.0,432.5 549.2,438.3 554.2,439.2 561.7,436.7"/>
<polyline points="544.2,448.3 546.7,450.0 550.0,443.3"/>
<polyline points="443.3,451.7 451.7,451.7 461.7,450.0 462.5,454.2 471.7,455.0"/>
<polyline points="461.7,454.2 460.8,465.0 465.0,470.8 471.7,470.0 471.7,463.3"/>
<polyline points="442.5,451.7 443.3,458.3 451.7,466.7 453.3,471.7 446.7,475.8 430.0,476.7"/>
<polyline points="446.7,475.8 446.7,488.3"/>
<polyline points="440.0,489.2 438.3,496.7 433.3,498.3"/>
<polyline points="475.8,489.2 478.3,494.2 476.7,500.0"/>
<polyline points="510.0,471.7 512.5,478.3 520.0,480.0 523.3,485.0 526.7,480.0 531.7,478.3 538.3,476.7 541.7,470.0 550.0,465.0 556.7,463.3 567.0,460.0"/>
<polyline points="503.3,470.0 510.0,471.7 516.7,466.7 523.3,468.3"/>
<polyline points="538.3,476.7 540.0,485.8"/>
<polyline points="523.3,485.0 527.5,485.8"/>
<polyline points="540.0,463.3 545.0,458.3 553.3,457.5 554.2,462.5 550.0,465.0"/>
<polyline points="503.3,486.7 503.3,496.7 501.7,505.0"/>
<polyline points="520.0,487.5 520.8,493.3 530.0,494.2 536.7,490.0 546.7,490.8 555.0,494.2 560.0,490.0 567.0,488.3"/>
<polyline points="530.0,494.2 531.7,501.7"/>
<polyline points="540.0,493.3 545.0,496.7 550.0,493.3 546.7,490.8"/>
<polyline points="364.2,480.8 364.2,463.3 377.5,463.3 377.5,470.8 386.7,470.8 386.7,463.3 407.5,463.3 407.5,481.7"/>
<polyline points="407.5,481.7 407.5,490.8 404.2,494.2 406.7,499.2 414.2,500.0 411.7,493.3 407.5,490.8"/>
<polyline points="370.0,518.3 373.3,514.2 382.5,513.3 383.3,508.3 393.3,508.3 393.3,512.5 401.7,512.5 401.7,518.3 395.8,519.2 395.0,527.5"/>
<polyline points="393.3,498.3 400.8,499.2 401.7,508.3 393.3,508.3"/>
<polyline points="359.7,489.7 359.7,517.5 368.3,520.8"/>
<polyline points="323.3,515.0 341.7,515.0 342.5,521.7 346.7,522.5 346.7,534.2 371.7,535.0 370.8,546.7 364.2,548.3 363.7,553.3 325.0,553.8"/>
<polyline points="371.7,535.0 383.3,535.0 384.2,541.7 390.0,540.0"/>
<polyline points="389.2,527.5 390.0,533.3 395.8,534.2 395.0,527.5"/>
<polyline points="395.8,534.2 406.7,534.2 410.0,538.3 410.8,543.3 421.7,542.5 422.5,546.7"/>
<polyline points="415.8,531.7 416.7,538.3 410.8,543.3"/>
<polyline points="415.8,531.7 423.3,533.3 430.0,532.5"/>
<polyline points="383.3,541.7 382.5,545.0 390.0,548.3 390.0,553.3 386.7,560.0 378.3,566.7 379.2,575.0"/>
<polyline points="325.0,554.2 325.0,559.2 345.0,560.0 345.0,566.7 357.5,567.5 358.3,578.3 368.3,579.2 368.3,575.8 378.3,575.0"/>
<polyline points="390.0,553.3 406.7,550.8 413.3,553.3 419.2,558.3 420.0,562.5"/>
<polyline points="391.7,560.0 406.7,558.3 412.5,561.7 410.0,566.7 395.0,573.3 391.7,568.3 391.7,560.0"/>
<polyline points="412.5,561.7 420.0,562.5 426.7,566.7 435.0,566.7"/>
<polyline points="410.0,566.7 410.8,575.0 420.0,575.0 426.7,566.7"/>
<polyline points="395.0,573.3 390.0,576.7 393.3,586.7 398.3,591.7"/>
<polyline points="410.8,575.0 406.7,583.3 401.7,588.3"/>
<polyline points="420.0,575.0 423.3,580.0 428.3,584.2 435.0,576.7 435.0,567.5"/>
<polyline points="359.2,584.2 368.3,579.2"/>
<polyline points="359.2,584.2 361.7,588.3 375.0,587.5"/>
<polyline points="426.7,510.0 430.0,508.3 430.8,500.8 436.7,500.0 439.2,490.0"/>
<polyline points="439.2,495.8 445.0,496.7 446.7,500.0 457.0,500.8"/>
<polyline points="442.5,481.7 445.8,475.8 455.0,475.0"/>
<polyline points="442.5,481.7 446.7,488.3 457.0,489.2"/>
<polyline points="443.3,546.7 446.7,541.7 457.0,541.7"/>
<polyline points="443.3,546.7 445.0,553.3 444.2,563.3 447.5,568.3 457.0,566.7"/>
<polyline points="457.0,576.7 436.7,577.5"/>
<polyline points="325.0,555.0 344.2,555.8 345.0,567.5 358.3,568.3 359.2,578.3 367.5,578.3 368.3,575.0 378.3,575.0"/>
<polyline points="359.2,584.2 365.8,582.5 373.3,588.3 359.2,588.3 359.2,584.2"/>
<polyline points="374.2,595.0 373.3,609.2"/>
<polyline points="383.3,575.0 386.7,570.0 383.3,565.0 390.0,559.2 400.0,560.0 406.7,555.8 410.0,560.0 420.0,560.8"/>
<polyline points="390.0,559.2 388.3,553.3"/>
<polyline points="386.7,570.0 393.3,575.0 406.7,568.3 410.0,570.0 409.2,577.5 416.7,575.0 423.3,568.3 435.0,566.7"/>
<polyline points="393.3,575.0 390.8,581.7 396.7,586.7 400.0,593.3 403.3,598.3 393.3,606.7 390.0,610.0"/>
<polyline points="403.3,598.3 410.0,595.0 408.3,590.0 416.7,586.7 409.2,577.5"/>
<polyline points="416.7,586.7 420.0,590.0"/>
<polyline points="423.3,568.3 426.7,578.3 433.3,579.2 434.2,585.0"/>
<polyline points="426.7,578.3 421.7,583.3 423.3,586.7"/>
<polyline points="425.8,520.0 425.8,530.0 430.8,531.7"/>
<polyline points="431.7,540.3 465.0,540.3"/>
<polyline points="445.0,541.7 444.2,547.5 453.3,546.7 454.2,541.7"/>
<polyline points="444.2,547.5 443.3,561.7 447.5,563.3 446.7,570.0 460.8,569.2"/>
<polyline points="420.0,555.8 426.7,557.5 430.0,566.7 435.8,568.3 436.7,573.3"/>
<polyline points="420.0,569.2 424.2,568.3 423.3,576.7 430.8,578.3 435.8,573.3"/>
<polyline points="436.7,576.7 458.3,575.8 460.8,568.3"/>
<polyline points="458.3,575.8 463.3,581.7 464.2,586.7"/>
<polyline points="426.7,587.5 428.3,581.7 435.0,580.0"/>
<polyline points="455.8,528.3 455.8,523.3 461.7,522.5 461.7,520.0"/>
<polyline points="491.7,536.7 490.8,532.5 495.8,532.5 495.8,536.7"/>
<polyline points="486.7,535.0 491.7,536.7 498.3,535.8"/>
<polyline points="477.5,545.0 473.3,547.5 476.7,553.3 476.7,557.5 486.7,555.8 486.7,559.2 497.5,557.5"/>
<polyline points="471.7,567.5 482.5,568.0 483.3,561.7 486.7,559.2"/>
<polyline points="510.8,557.5 520.0,555.8 526.7,550.8 536.7,550.0"/>
<polyline points="506.7,563.3 510.8,568.3"/>
<polyline points="516.7,532.5 521.7,526.7 528.3,525.0 535.0,520.0"/>
<polyline points="520.0,548.3 526.7,545.0 528.3,536.7 535.0,533.3"/>
<polyline points="508.3,568.3 525.8,569.2 526.7,577.5"/>
<polyline points="525.8,569.2 539.2,568.3"/>
<polyline points="551.7,520.0 553.3,530.0 551.7,538.3 557.0,540.0"/>
<polyline points="502.5,487.5 502.0,500.0 503.3,505.0 507.5,505.8 507.5,511.3"/>
<polyline points="507.5,503.3 513.3,501.7 516.7,498.3 518.3,487.5"/>
<polyline points="530.8,511.3 536.7,505.0 540.0,500.0 546.7,498.3 556.7,490.0"/>
<polyline points="540.0,493.3 546.7,490.0 550.8,494.2 545.0,498.3 540.0,493.3"/>
<polyline points="546.7,498.3 550.0,505.0 556.7,503.3 563.3,498.3 577.0,493.3"/>
<polyline points="550.0,505.0 548.3,511.3"/>
<polyline points="511.7,511.3 513.3,516.7 521.7,520.0 523.3,525.0 520.0,528.3 516.7,532.5"/>
<polyline points="523.3,525.0 530.8,516.7 532.5,511.3"/>
<polyline points="521.7,548.3 528.3,550.0 535.8,551.7"/>
<polyline points="509.2,569.2 509.2,565.0 513.3,558.3"/>
<polyline points="525.0,569.2 525.8,574.2"/>
<polyline points="487.5,538.3 490.0,533.3 496.7,532.5 499.2,535.0"/>
<polyline points="485.0,556.7 486.7,558.3 496.7,556.7 497.5,550.0"/>
<polyline points="483.3,569.2 484.2,565.0 495.8,558.3 498.3,557.5"/>
<polyline points="543.3,511.3 544.2,516.7 538.3,521.7 541.7,525.8"/>
<polyline points="551.7,533.3 556.7,536.7 563.3,533.3 566.7,526.7 563.3,520.0 566.7,513.3 577.0,511.7"/>
<polyline points="544.2,516.7 553.3,515.0 556.7,520.0 563.3,520.0"/>
<polyline points="555.0,543.3 561.7,542.5 566.7,536.7 563.3,533.3"/>
<polyline points="555.0,551.7 566.7,553.3 568.3,558.3 577.0,556.7"/>
<polyline points="551.7,567.5 566.7,566.7 568.3,558.3"/>
<polyline points="566.7,566.7 568.3,573.3"/>
<polyline points="440.0,495.0 446.7,500.0 455.0,501.7 461.7,505.0 460.8,510.0 455.8,511.7"/>
<polyline points="440.0,540.8 461.7,540.8 461.7,526.7 456.7,525.8 457.5,521.7"/>
<polyline points="444.2,546.7 448.3,543.3 454.2,545.8 461.7,540.8"/>
<polyline points="443.3,565.0 449.2,566.7 456.7,565.0 460.8,567.5"/>
<polyline points="461.7,453.3 462.5,462.5 470.8,463.3 471.7,456.7"/>
<polyline points="440.0,475.0 446.7,476.7 445.0,487.5"/>
<polyline points="456.7,466.7 455.8,471.7 446.7,476.7"/>
<polyline points="508.3,450.0 506.7,458.3 501.7,466.7 503.3,471.7 498.3,475.0 490.0,481.7"/>
<polyline points="511.7,468.3 513.3,476.7 520.0,481.7 526.7,480.0 530.0,485.8"/>
<polyline points="511.7,468.3 518.3,465.0 525.0,466.7"/>
<polyline points="533.3,480.0 540.0,475.0 538.3,470.0 546.7,461.7 555.0,465.0 553.3,471.7 546.7,475.0 540.0,475.0"/>
<polyline points="555.0,465.0 563.3,460.0 571.7,461.7 577.0,456.7"/>
<polyline points="560.0,487.5 566.7,480.0 577.0,475.0"/>
<polyline points="520.0,450.0 521.7,458.3 528.3,460.0 536.7,456.7 540.0,450.0"/>
<polyline points="530.8,406.7 531.7,425.0 525.0,426.7 524.2,435.0"/>
<polyline points="531.7,425.0 536.7,430.0 535.0,438.3 540.8,440.0"/>
<polyline points="530.0,446.7 535.0,450.0 536.7,443.3"/>
<polyline points="546.7,421.7 553.3,420.8 554.2,426.7 546.7,427.5 546.7,421.7"/>
<polyline points="542.5,416.7 547.5,416.7 548.3,411.7 559.2,412.5 560.0,416.7 568.3,415.8 567.5,420.8 573.3,420.0 574.2,413.3"/>
<polyline points="554.2,426.7 555.8,435.8 546.7,437.5 545.8,443.3"/>
<polyline points="555.8,435.8 561.7,435.0 562.5,441.7 570.0,442.5 573.3,448.3"/>
<polyline points="567.5,420.8 568.3,431.7 561.7,435.0"/>
<polyline points="573.3,420.0 577.5,425.0 584.2,423.3 583.3,431.7 578.3,438.3 576.7,445.0"/>
<polyline points="584.2,423.3 586.7,416.7 591.7,415.8"/>
<polyline points="568.3,431.7 577.5,433.3 578.3,438.3"/>
<polyline points="547.5,450.0 548.3,455.0 555.0,458.3 560.8,455.0"/>
<polyline points="540.0,460.0 543.3,463.3 553.3,461.7 555.8,466.7 552.5,473.3 545.0,474.2 541.7,470.0 543.3,463.3"/>
<polyline points="555.8,466.7 565.0,460.0 568.3,461.7"/>
<polyline points="530.0,478.3 540.0,479.2 540.8,483.3 559.2,487.0"/>
<polyline points="552.5,473.3 560.0,478.3 570.0,480.0"/>
<polyline points="602.8,403.3 600.8,410.0 603.3,416.7 601.7,425.0 603.3,439.7"/>
<polyline points="613.3,424.2 610.8,429.2 611.7,439.7"/>
<polyline points="613.3,424.2 626.7,425.0 635.0,423.3 636.7,416.7 635.0,410.0 636.7,403.3"/>
<polyline points="626.7,425.0 628.3,431.7 636.7,433.3 643.3,431.7 646.7,439.7"/>
<polyline points="636.7,416.7 646.7,418.3 648.3,425.0"/>
<polyline points="606.7,458.3 603.3,455.0 606.7,451.7 610.8,456.7"/>
<polyline points="601.7,464.2 598.3,471.7 593.3,475.0"/>
<polyline points="606.7,473.3 605.0,480.0 603.3,487.5"/>
<polyline points="620.0,470.0 624.2,473.3 623.3,480.0"/>
<polyline points="541.7,493.3 546.7,490.0 558.3,490.8 555.0,498.3 546.7,500.0 541.7,493.3"/>
<polyline points="558.3,490.8 578.3,488.3"/>
<polyline points="555.0,498.3 570.0,496.7"/>
<polyline points="535.0,506.7 533.3,513.3 532.5,526.7"/>
<polyline points="578.3,496.7 586.7,495.0 591.7,500.0 586.7,504.2"/>
<polyline points="598.3,490.8 597.5,498.3 600.0,506.7 593.3,513.3"/>
<polyline points="600.0,506.7 606.7,515.0 613.3,516.7 620.0,510.0 628.3,505.0"/>
<polyline points="606.7,515.0 610.0,523.3 615.8,531.7"/>
<polyline points="570.0,515.0 576.7,513.3 578.3,520.0 586.7,522.5"/>
<polyline points="560.0,516.7 570.0,515.0 568.3,523.3"/>
<polyline points="543.3,513.3 545.0,521.7 553.3,523.3 560.0,516.7"/>
<polyline points="621.7,500.0 626.7,506.7 636.7,506.7 640.0,511.7"/>
<polyline points="626.7,506.7 620.0,516.7 623.3,523.3"/>
<polyline points="640.0,381.7 641.7,386.7 650.0,387.5 651.7,391.7"/>
<polyline points="650.0,387.5 657.5,383.3 669.2,382.5"/>
<polyline points="648.3,365.8 651.7,371.7 648.3,376.7 640.0,381.7"/>
<polyline points="630.0,403.3 655.0,402.5"/>
<polyline points="636.7,403.3 637.5,416.7 635.0,426.7"/>
<polyline points="646.7,403.3 647.5,415.0"/>
<polyline points="683.3,393.3 685.0,400.0 687.5,390.8"/>
<polyline points="677.5,403.7 698.0,403.7"/>
<polyline points="685.0,403.7 685.8,415.0"/>
<polyline points="698.0,403.7 698.0,413.3"/>
<polyline points="700.0,371.7 708.3,373.3 705.8,366.7"/>
<polyline points="525.0,362.5 535.8,364.2 536.7,368.3 549.2,368.7 554.2,370.8"/>
<polyline points="530.0,386.7 532.5,396.7 538.3,397.5 537.5,401.7 520.0,403.3"/>
<polyline points="540.0,395.8 538.3,397.5"/>
<polyline points="549.2,378.3 549.2,368.7"/>
<polyline points="557.5,384.2 563.7,383.3 568.3,385.0"/>
<polyline points="554.2,390.8 563.3,390.0 569.2,390.8"/>
<polyline points="618.3,383.3 617.5,393.3 626.7,395.8 640.0,395.0"/>
<polyline points="626.7,395.8 628.3,403.0"/>
<polyline points="641.7,384.2 643.3,390.8 651.7,390.0 653.3,383.3 648.3,378.3"/>
<polyline points="602.5,403.0 600.8,410.0 603.3,416.7 601.7,425.0 603.3,435.0"/>
<polyline points="613.3,424.2 610.8,429.2 611.7,435.0"/>
<polyline points="635.0,403.0 636.7,410.0 635.0,416.7 636.7,423.3 626.7,425.0 613.3,424.2"/>
<polyline points="554.2,552.5 568.3,554.2 575.0,550.0 584.2,545.0"/>
<polyline points="568.3,554.2 566.7,563.3 570.0,573.3"/>
<polyline points="550.8,568.3 566.7,563.3"/>
<polyline points="575.0,550.0 578.3,558.3 584.2,561.7"/>
<polyline points="560.0,575.0 559.2,583.3 563.3,591.7"/>
<polyline points="573.3,574.2 575.0,591.7 573.3,595.0 586.7,598.3"/>
<polyline points="575.0,591.7 585.0,590.0"/>
<polyline points="567.5,601.7 575.0,603.3 576.7,608.3 570.0,611.7"/>
<polyline points="576.7,608.3 582.5,609.2"/>
<polyline points="588.3,614.2 586.7,620.0 593.3,621.7 595.0,618.3"/>
<polyline points="570.0,621.7 576.7,623.3 580.0,631.7 586.7,631.7 589.2,625.0"/>
<polyline points="576.7,623.3 577.5,615.0"/>
<polyline points="580.0,631.7 579.2,636.7"/>
<polyline points="584.2,641.7 597.5,640.0"/>
<polyline points="525.8,568.7 526.7,578.3"/>
<polyline points="536.7,525.0 541.7,535.0 542.5,543.3"/>
<polyline points="554.2,543.3 563.3,535.0 575.0,538.3 582.5,539.2"/>
<polyline points="563.3,535.0 561.7,525.0"/>
</g>
<polyline points="501.7,433.0 496.7,435.8 491.7,438.3 485.0,440.8 480.0,446.7 477.5,451.7 475.3,455.5" fill="none" stroke="#f4f1f6" stroke-width="3.2" stroke-linecap="round" stroke-linejoin="round"/>
<polyline points="501.7,433.0 496.7,435.8 491.7,438.3 485.0,440.8 480.0,446.7 477.5,451.7 475.3,455.5" fill="none" stroke="#256dff" stroke-width="1.9" stroke-linecap="butt" stroke-linejoin="round" stroke-dasharray="5 1.2"/>
<polygon points="394.2,546.0 397.5,540.0 400.5,546.0" fill="#256dff"/>
<polygon points="393.7,544.5 393.1,545.6 391.5,546.0 389.9,545.6 389.3,544.5 389.9,543.4 391.5,543.0 393.1,543.4" fill="#f4f1f6"/>
<polygon points="392.0,544.6 391.7,545.2 391.0,545.4 390.3,545.2 390.0,544.6 390.3,544.0 391.0,543.8 391.7,544.0" fill="#256dff"/>
<polygon points="406.0,542.5 405.1,543.1 403.0,543.3 400.9,543.1 400.0,542.5 400.9,541.9 403.0,541.7 405.1,541.9" fill="#f4f1f6"/>
<polygon points="417.3,586.0 416.1,588.5 413.3,589.6 410.5,588.5 409.3,586.0 410.5,583.5 413.3,582.4 416.1,583.5" fill="#f4f1f6"/>
<polygon points="413.9,585.0 413.4,585.9 412.3,586.3 411.2,585.9 410.7,585.0 411.2,584.1 412.3,583.7 413.4,584.1" fill="#256dff"/>
<polygon points="416.4,587.5 416.0,588.3 415.0,588.7 414.0,588.3 413.6,587.5 414.0,586.7 415.0,586.3 416.0,586.7" fill="#256dff"/>
<polygon points="413.5,588.5 413.2,589.1 412.5,589.4 411.8,589.1 411.5,588.5 411.8,587.9 412.5,587.6 413.2,587.9" fill="#256dff"/>
<polygon points="388.9,579.0 388.2,581.3 386.5,582.3 384.8,581.3 384.1,579.0 384.8,576.7 386.5,575.7 388.2,576.7" fill="#f4f1f6"/>
<polygon points="388.0,579.0 387.6,580.8 386.5,581.6 385.4,580.8 385.0,579.0 385.4,577.2 386.5,576.4 387.6,577.2" fill="#256dff"/>
<polygon points="382.7,591.7 380.2,593.0 377.0,592.8 375.0,591.2 375.3,589.3 377.8,588.0 381.0,588.2 383.0,589.8" fill="#f4f1f6"/>
<polygon points="378.5,591.5 378.1,592.2 377.0,592.5 375.9,592.2 375.5,591.5 375.9,590.8 377.0,590.5 378.1,590.8" fill="#256dff"/>
<polygon points="382.5,589.5 382.1,590.2 381.0,590.5 379.9,590.2 379.5,589.5 379.9,588.8 381.0,588.5 382.1,588.8" fill="#256dff"/>
<polygon points="551.3,529.5 550.0,531.9 546.7,532.9 543.4,531.9 542.1,529.5 543.4,527.1 546.7,526.1 550.0,527.1" fill="#f4f1f6"/>
<polygon points="546.6,528.6 546.1,529.4 545.0,529.8 543.9,529.4 543.4,528.6 543.9,527.8 545.0,527.4 546.1,527.8" fill="#256dff"/>
<polygon points="550.3,530.4 549.8,531.2 548.6,531.6 547.4,531.2 546.9,530.4 547.4,529.6 548.6,529.2 549.8,529.6" fill="#256dff"/>
<polygon points="547.2,531.5 546.8,532.1 546.0,532.4 545.2,532.1 544.8,531.5 545.2,530.9 546.0,530.6 546.8,530.9" fill="#256dff"/>
<polygon points="591.7,506.7 590.8,508.7 588.5,509.5 586.2,508.7 585.3,506.7 586.2,504.7 588.5,503.9 590.8,504.7" fill="#f4f1f6"/>
<polygon points="590.7,506.7 590.1,508.0 588.5,508.6 586.9,508.0 586.3,506.7 586.9,505.4 588.5,504.8 590.1,505.4" fill="#256dff"/>
<polygon points="480.5,455.2 479.6,457.3 477.3,458.2 475.0,457.3 474.1,455.2 475.0,453.1 477.3,452.2 479.6,453.1" fill="#f4f1f6"/>
<polygon points="478.2,456.2 477.7,457.3 476.6,457.8 475.5,457.3 475.0,456.2 475.5,455.1 476.6,454.6 477.7,455.1" fill="#256dff"/>
<polygon points="479.8,453.6 479.4,454.5 478.6,454.9 477.8,454.5 477.4,453.6 477.8,452.7 478.6,452.3 479.4,452.7" fill="#256dff"/>
<polygon points="533.0,463.8 532.2,465.4 530.3,466.0 528.4,465.4 527.6,463.8 528.4,462.2 530.3,461.6 532.2,462.2" fill="#f4f1f6"/>
<polygon points="532.3,463.8 531.7,464.9 530.3,465.3 528.9,464.9 528.3,463.8 528.9,462.7 530.3,462.3 531.7,462.7" fill="#256dff"/>
<polygon points="551.1,445.6 550.3,447.6 548.5,448.4 546.7,447.6 545.9,445.6 546.7,443.6 548.5,442.8 550.3,443.6" fill="#f4f1f6"/>
<polygon points="550.3,445.4 549.8,446.8 548.7,447.4 547.6,446.8 547.1,445.4 547.6,444.0 548.7,443.4 549.8,444.0" fill="#256dff"/>
<polygon points="481.6,507.0 481.1,509.0 480.0,509.8 478.9,509.0 478.4,507.0 478.9,505.0 480.0,504.2 481.1,505.0" fill="#f4f1f6"/>
<polygon points="480.9,507.0 480.6,508.4 480.0,509.0 479.4,508.4 479.1,507.0 479.4,505.6 480.0,505.0 480.6,505.6" fill="#256dff"/>
<polygon points="476.2,579.3 473.3,580.8 468.7,581.0 465.2,579.7 464.8,577.7 467.7,576.2 472.3,576.0 475.8,577.3" fill="#f4f1f6"/>
<polygon points="470.9,577.5 470.2,578.2 468.5,578.5 466.8,578.2 466.1,577.5 466.8,576.8 468.5,576.5 470.2,576.8" fill="#256dff"/>
<polygon points="475.4,579.8 474.7,580.4 473.0,580.7 471.3,580.4 470.6,579.8 471.3,579.2 473.0,578.9 474.7,579.2" fill="#256dff"/>
<polygon points="528.4,385.8 527.6,387.5 525.8,388.2 524.0,387.5 523.2,385.8 524.0,384.1 525.8,383.4 527.6,384.1" fill="#f4f1f6"/>
<polygon points="527.7,385.8 527.1,387.0 525.8,387.5 524.5,387.0 523.9,385.8 524.5,384.6 525.8,384.1 527.1,384.6" fill="#256dff"/>
<polygon points="534.1,388.2 533.3,389.9 531.5,390.6 529.7,389.9 528.9,388.2 529.7,386.5 531.5,385.8 533.3,386.5" fill="#f4f1f6"/>
<polygon points="533.3,388.2 532.8,389.4 531.5,389.9 530.2,389.4 529.7,388.2 530.2,387.0 531.5,386.5 532.8,387.0" fill="#256dff"/>
<polygon points="505.2,387.0 504.8,388.6 504.0,389.2 503.2,388.6 502.8,387.0 503.2,385.4 504.0,384.8 504.8,385.4" fill="#256dff"/>
<polygon points="565.3,436.0 564.8,437.3 563.5,437.8 562.2,437.3 561.7,436.0 562.2,434.7 563.5,434.2 564.8,434.7" fill="#f4f1f6"/>
<polygon points="564.6,436.0 564.3,436.8 563.5,437.1 562.7,436.8 562.4,436.0 562.7,435.2 563.5,434.9 564.3,435.2" fill="#256dff"/>
<polygon points="221.5,534.5 220.2,535.9 217.0,536.5 213.8,535.9 212.5,534.5 213.8,533.1 217.0,532.5 220.2,533.1" fill="#f4f1f6"/>
<polygon points="216.8,534.5 216.4,535.2 215.5,535.5 214.6,535.2 214.2,534.5 214.6,533.8 215.5,533.5 216.4,533.8" fill="#256dff"/>
<polygon points="220.1,534.8 219.7,535.4 218.8,535.7 217.9,535.4 217.5,534.8 217.9,534.2 218.8,533.9 219.7,534.2" fill="#256dff"/>
<polygon points="120.8,488.3 129.2,489.2 130.0,491.7 122.5,493.0" fill="#256dff"/>
<polygon points="303.8,440.3 303.3,441.4 302.0,441.9 300.7,441.4 300.2,440.3 300.7,439.2 302.0,438.7 303.3,439.2" fill="#f4f1f6"/>
<polygon points="441.3,355.3 440.7,356.6 439.3,357.1 437.9,356.6 437.3,355.3 437.9,354.0 439.3,353.5 440.7,354.0" fill="#f4f1f6"/>
<polygon points="440.3,355.3 440.0,355.9 439.3,356.2 438.6,355.9 438.3,355.3 438.6,354.7 439.3,354.4 440.0,354.7" fill="#256dff"/>
<polygon points="503.7,402.5 502.8,404.8 500.5,405.7 498.2,404.8 497.3,402.5 498.2,400.2 500.5,399.3 502.8,400.2" fill="#f4f1f6"/>
<polygon points="502.5,402.5 501.9,403.9 500.5,404.5 499.1,403.9 498.5,402.5 499.1,401.1 500.5,400.5 501.9,401.1" fill="#256dff"/>
<polygon points="501.4,402.5 501.1,403.1 500.5,403.4 499.9,403.1 499.6,402.5 499.9,401.9 500.5,401.6 501.1,401.9" fill="#f4f1f6"/>
<polygon points="562.1,396.5 561.3,398.1 559.5,398.7 557.7,398.1 556.9,396.5 557.7,394.9 559.5,394.3 561.3,394.9" fill="#f4f1f6"/>
<polygon points="560.3,396.8 559.9,397.5 559.0,397.8 558.1,397.5 557.7,396.8 558.1,396.1 559.0,395.8 559.9,396.1" fill="#256dff"/>
<polygon points="146.9,523.4 144.3,524.8 139.8,525.2 136.0,524.2 135.1,522.6 137.7,521.2 142.2,520.8 146.0,521.8" fill="#f4f1f6"/>
<polygon points="140.6,522.6 140.1,523.2 139.0,523.5 137.9,523.2 137.4,522.6 137.9,522.0 139.0,521.7 140.1,522.0" fill="#256dff"/>
<polygon points="145.1,523.6 144.6,524.2 143.5,524.5 142.4,524.2 141.9,523.6 142.4,523.0 143.5,522.7 144.6,523.0" fill="#256dff"/>
<polygon points="154.2,534.0 153.3,535.7 151.0,536.4 148.7,535.7 147.8,534.0 148.7,532.3 151.0,531.6 153.3,532.3" fill="#f4f1f6"/>
<polygon points="152.7,534.0 152.2,534.8 151.0,535.2 149.8,534.8 149.3,534.0 149.8,533.2 151.0,532.8 152.2,533.2" fill="#256dff"/>
<polygon points="98.5,470.0 97.6,472.5 95.5,473.6 93.4,472.5 92.5,470.0 93.4,467.5 95.5,466.4 97.6,467.5" fill="#f4f1f6"/>
<polygon points="96.2,469.5 95.8,470.6 95.0,471.1 94.2,470.6 93.8,469.5 94.2,468.4 95.0,467.9 95.8,468.4" fill="#256dff"/>
<polygon points="97.9,472.5 97.6,473.1 97.0,473.4 96.4,473.1 96.1,472.5 96.4,471.9 97.0,471.6 97.6,471.9" fill="#256dff"/>
<polygon points="597.6,632.0 597.1,634.4 596.0,635.4 594.9,634.4 594.4,632.0 594.9,629.6 596.0,628.6 597.1,629.6" fill="#f4f1f6"/>
<polygon points="596.4,632.0 596.2,633.7 595.6,634.4 595.0,633.7 594.8,632.0 595.0,630.3 595.6,629.6 596.2,630.3" fill="#256dff"/>
<polygon points="686.9,407.5 685.9,409.1 683.5,409.7 681.1,409.1 680.1,407.5 681.1,405.9 683.5,405.3 685.9,405.9" fill="#f4f1f6"/>
<polygon points="683.7,407.5 683.3,408.2 682.5,408.5 681.7,408.2 681.3,407.5 681.7,406.8 682.5,406.5 683.3,406.8" fill="#256dff"/>
<polygon points="686.0,407.8 685.7,408.4 685.0,408.7 684.3,408.4 684.0,407.8 684.3,407.2 685.0,406.9 685.7,407.2" fill="#256dff"/>
<polygon points="705.3,398.0 704.8,399.7 703.5,400.4 702.2,399.7 701.7,398.0 702.2,396.3 703.5,395.6 704.8,396.3" fill="#f4f1f6"/>
<polygon points="704.2,398.0 703.9,399.0 703.3,399.4 702.7,399.0 702.4,398.0 702.7,397.0 703.3,396.6 703.9,397.0" fill="#256dff"/>
<polygon points="706.4,371.0 705.7,372.1 704.0,372.6 702.3,372.1 701.6,371.0 702.3,369.9 704.0,369.4 705.7,369.9" fill="#f4f1f6"/>
<polygon points="705.3,371.0 704.9,371.6 704.0,371.8 703.1,371.6 702.7,371.0 703.1,370.4 704.0,370.2 704.9,370.4" fill="#256dff"/>
<polygon points="707.3,386.5 706.5,387.6 704.5,388.0 702.5,387.6 701.7,386.5 702.5,385.4 704.5,385.0 706.5,385.4" fill="#f4f1f6"/>
<polygon points="706.1,386.5 705.6,387.0 704.5,387.2 703.4,387.0 702.9,386.5 703.4,386.0 704.5,385.8 705.6,386.0" fill="#256dff"/>
<polygon points="725.0,363.0 724.7,364.8 724.0,365.6 723.3,364.8 723.0,363.0 723.3,361.2 724.0,360.4 724.7,361.2" fill="#f4f1f6"/>
<polygon points="638.4,452.5 637.1,454.3 634.0,455.1 630.9,454.3 629.6,452.5 630.9,450.7 634.0,449.9 637.1,450.7" fill="#f4f1f6"/>
<polygon points="634.0,452.3 633.6,453.1 632.5,453.5 631.4,453.1 631.0,452.3 631.4,451.5 632.5,451.1 633.6,451.5" fill="#256dff"/>
<polygon points="637.4,453.0 637.0,453.8 636.0,454.1 635.0,453.8 634.6,453.0 635.0,452.2 636.0,451.9 637.0,452.2" fill="#256dff"/>
<polygon points="655.6,437.0 654.8,438.6 653.0,439.2 651.2,438.6 650.4,437.0 651.2,435.4 653.0,434.8 654.8,435.4" fill="#f4f1f6"/>
<polygon points="654.5,437.0 654.1,437.8 653.0,438.2 651.9,437.8 651.5,437.0 651.9,436.2 653.0,435.8 654.1,436.2" fill="#256dff"/>
<g fill="none" stroke="#fff3f2" stroke-width="1.0" stroke-linejoin="round" stroke-linecap="round">
<polyline points="155.5,284.3 155.5,336.3 157.5,339.0 161.7,344.2 158.3,351.7 155.0,359.2 152.5,364.2 155.5,367.5 155.5,404.0"/>
<polyline points="72.5,333.3 84.2,332.5 85.8,338.3 89.2,343.7 95.0,343.3 100.8,341.7 102.5,343.3 105.0,343.0 118.3,340.0 128.3,337.5 133.3,336.3 155.5,336.3"/>
<polyline points="166.6,284.3 166.7,300.0 169.2,305.8 171.7,310.8 175.0,314.2 179.2,318.3 183.3,323.3 187.5,325.8 186.7,332.5 185.0,341.7 185.4,343.9 191.6,342.7 196.6,352.7 202.9,362.7 206.7,364.7 215.4,361.5 224.2,359.0 227.5,354.0"/>
<polyline points="69.2,404.0 227.5,404.0"/>
<polyline points="120.4,404.0 120.4,451.0 184.7,511.1"/>
<polyline points="191.7,404.0 191.7,495.0 188.5,497.0 186.0,503.0 184.7,511.1 186.0,515.0 188.3,520.0 187.5,525.0 185.0,531.7 183.3,536.7 183.3,543.8"/>
<polyline points="227.5,354.0 227.5,419.9"/>
<polyline points="227.5,354.0 311.2,354.0"/>
<polyline points="311.2,284.3 311.2,419.9"/>
<polyline points="227.5,419.9 335.1,419.9"/>
<polyline points="251.4,419.9 251.4,563.5"/>
<polyline points="191.7,481.5 423.5,481.5"/>
<polyline points="335.1,419.9 335.1,481.5"/>
<polyline points="322.9,481.5 322.9,554.2 280.8,554.2 280.8,555.8"/>
<polyline points="322.9,489.3 359.6,489.3 359.6,517.5 363.3,520.0 368.3,519.2 369.2,522.5 375.0,524.2 380.0,525.0 385.0,527.5 390.0,526.7 393.3,529.2 398.3,527.5 405.0,528.3 411.7,526.7 418.3,528.3 424.2,530.8 430.0,532.5 430.5,540.5"/>
<polyline points="311.2,338.3 400.0,338.3"/>
<polyline points="311.2,387.8 376.7,388.0 380.0,390.0 385.0,390.8 391.7,390.8 396.7,393.3 400.8,395.8 403.3,403.3 405.8,410.0 407.5,418.3 410.0,426.7 413.3,432.5 416.7,436.7 420.0,441.7 418.3,446.7 420.8,450.0 423.5,451.0 423.5,489.3 425.8,530.8"/>
<polyline points="392.6,284.3 394.5,296.0 396.4,307.6 397.5,318.0 398.9,327.6 398.0,335.0 396.4,342.7 401.4,347.7 401.9,379.5 400.3,384.0 401.7,389.0 400.8,395.8"/>
<polyline points="401.9,379.5 464.2,379.5"/>
<polyline points="335.1,435.6 414.5,435.6"/>
<polyline points="410.0,426.5 461.0,426.5 462.3,430.0"/>
<polyline points="423.5,489.3 474.8,489.3 474.8,496.4 482.0,496.4"/>
<polyline points="453.3,325.0 451.7,329.2 451.7,336.7 445.8,340.0 445.0,345.0 446.7,350.0 445.8,356.7 450.0,360.8 456.7,365.8 461.7,371.7 464.2,378.3 466.0,385.0 469.0,390.0 470.8,395.8 473.3,403.3 470.8,410.0 467.5,413.3 465.8,418.3 463.3,425.0 461.7,431.7 463.3,438.3 468.3,445.0 471.7,451.7 475.0,456.7 475.8,461.7 480.0,466.7 485.0,471.7 487.5,478.3 489.5,482.5 487.0,487.0 484.0,493.0 482.0,496.4 481.0,503.0 479.0,510.0 475.0,516.0 472.0,521.0 466.7,526.7 465.0,533.3 467.5,540.0 468.3,550.0 465.0,558.3 460.8,565.0 460.8,568.3 482.5,568.3 483.5,575.0 485.0,580.0 484.2,585.8"/>
<polyline points="470.8,395.8 505.5,395.8"/>
<polyline points="475.8,327.5 486.7,331.7 496.7,335.8 501.7,338.3 504.2,341.7 506.7,348.3 508.0,353.0"/>
<polyline points="508.5,408.0 508.5,440.0 507.5,445.0 506.7,453.3 504.2,461.7 501.7,468.3"/>
<polyline points="489.5,482.5 493.3,480.0 498.3,476.7 501.7,468.3 508.3,468.3 513.3,470.0 518.3,466.7 523.3,468.3 528.3,465.0 531.7,460.8 536.7,456.7 541.7,453.3 545.0,450.0 550.0,450.0 555.8,453.3 560.8,455.0 565.8,453.3 570.0,455.0 573.3,451.7 575.8,449.2 578.3,445.0 583.3,440.0 586.7,437.0 590.0,431.0 592.6,425.0"/>
<polyline points="592.6,404.5 592.6,440.0 647.5,440.0 649.3,438.0 651.5,437.0"/>
<polyline points="602.5,400.0 602.5,403.5 652.0,403.5 655.0,406.0 657.5,409.5 659.5,412.5 662.3,414.2 671.0,420.5"/>
<polyline points="662.3,414.2 659.0,418.0 660.5,423.0 658.0,428.0 661.0,432.5 657.0,436.5 652.0,440.5 649.5,442.0"/>
<polyline points="517.5,408.0 541.5,408.0 555.8,406.7"/>
<polyline points="541.5,408.0 541.5,451.8"/>
<polyline points="486.0,488.8 503.3,488.8 503.3,486.9 554.8,487.5 578.7,487.7 645.8,488.3"/>
<polyline points="479.0,511.1 547.2,511.1 561.7,511.1 570.0,508.0 578.0,506.5 584.0,506.5 586.0,509.0 590.0,510.0 593.3,514.2 597.0,511.5 605.8,512.5 616.0,527.0"/>
<polyline points="547.2,511.1 552.0,507.0 557.0,503.0 562.0,499.0 567.0,496.5 571.0,492.0 575.0,490.0 578.7,487.7"/>
<polyline points="561.7,511.1 565.0,517.0 567.5,522.0 570.0,528.0 575.0,535.0 580.0,541.5 584.0,546.0 588.0,550.5"/>
<polyline points="500.5,511.1 498.0,545.0 498.2,577.0"/>
<polyline points="531.9,511.1 534.5,527.0 536.9,541.8 538.6,550.0 537.8,558.0 539.0,568.2"/>
<polyline points="498.2,568.3 508.3,568.3 508.3,577.0"/>
<polyline points="508.3,568.3 539.0,568.3 539.5,572.5 573.0,573.5 575.0,576.0 578.0,573.0 581.7,573.0"/>
<polyline points="430.5,540.5 466.8,540.5"/>
<polyline points="430.5,540.5 431.7,553.3 434.2,560.0 435.8,566.7 435.8,575.0 434.2,581.7 432.5,586.7"/>
<polyline points="570.0,455.0 568.3,461.7 570.0,466.7 573.3,471.7 576.7,475.3 580.0,477.5 586.7,477.5 593.3,475.5 598.3,472.0 601.7,465.0 606.7,459.0 610.8,457.5 615.8,450.0 620.0,446.5 623.3,444.5"/>
<polyline points="576.7,475.3 570.0,480.0 563.3,484.2 559.2,487.0 554.8,487.5"/>
<polyline points="605.1,440.0 605.8,445.0 607.5,447.5 611.7,443.3 615.8,442.5 620.0,443.3 623.3,444.5 627.0,448.0 630.0,452.0 631.0,457.0 634.0,461.0 638.0,464.0 641.5,466.0"/>
<polyline points="679.2,354.7 679.5,372.0 678.5,380.0 680.0,390.8 677.5,403.3 677.5,415.0 675.0,420.0"/>
<polyline points="699.2,354.7 698.0,362.0 694.2,366.7 692.5,373.3 690.0,383.3 687.5,390.8"/>
<polyline points="707.5,348.3 706.5,365.0 708.0,374.0 710.0,380.0"/>
<polyline points="680.0,390.8 703.8,390.8"/>
<polyline points="677.5,403.3 701.7,403.3 703.0,410.0"/>
<polyline points="698.0,403.3 698.0,413.8"/>
<polyline points="647.5,440.0 647.8,459.0 658.3,459.0"/>
</g>
<polyline points="90.5,296.3 92.0,301.7 90.8,306.7 89.2,310.8 86.3,315.0" fill="none" stroke="#f7f7f7" stroke-width="2.0" stroke-linecap="round" stroke-linejoin="round"/>
<polyline points="88.3,290.0 89.7,293.7 90.5,296.3" fill="none" stroke="#f7f7f7" stroke-width="1.4" stroke-linecap="round" stroke-linejoin="round"/>
<polyline points="80.0,300.3 84.2,301.3 87.7,300.3" fill="none" stroke="#f7f7f7" stroke-width="1.2" stroke-linecap="round" stroke-linejoin="round"/>
<polyline points="87.7,300.3 86.7,305.8 83.7,310.3 84.7,314.7" fill="none" stroke="#f7f7f7" stroke-width="1.5" stroke-linecap="round" stroke-linejoin="round"/>
<polyline points="93.7,298.3 95.3,304.2 94.3,309.2" fill="none" stroke="#f7f7f7" stroke-width="1.0" stroke-linecap="round" stroke-linejoin="round"/>
<polyline points="87.5,466.7 92.5,468.3 95.8,473.3 98.7,476.7" fill="none" stroke="#f7f7f7" stroke-width="1.3" stroke-linecap="round" stroke-linejoin="round"/>
<polyline points="92.5,468.3 94.2,464.2 98.7,463.3" fill="none" stroke="#f7f7f7" stroke-width="1.0" stroke-linecap="round" stroke-linejoin="round"/>
<polyline points="642.0,465.0 638.3,462.5 635.8,458.3 632.0,454.7" fill="none" stroke="#f7f7f7" stroke-width="1.1" stroke-linecap="round" stroke-linejoin="round"/>
<polyline points="643.3,473.3 639.2,472.0 635.3,468.3" fill="none" stroke="#f7f7f7" stroke-width="1.0" stroke-linecap="round" stroke-linejoin="round"/>
<polyline points="643.3,477.5 640.0,478.3 636.3,475.8" fill="none" stroke="#f7f7f7" stroke-width="1.0" stroke-linecap="round" stroke-linejoin="round"/>
<polyline points="645.3,493.3 641.3,494.2 640.8,497.0 644.7,498.0" fill="none" stroke="#f7f7f7" stroke-width="1.3" stroke-linecap="round" stroke-linejoin="round"/>
<polyline points="636.7,506.7 640.8,508.0" fill="none" stroke="#f7f7f7" stroke-width="1.0" stroke-linecap="round" stroke-linejoin="round"/>
<polyline points="679.3,356.7 680.0,365.8 679.3,373.3" fill="none" stroke="#f7f7f7" stroke-width="1.0" stroke-linecap="round" stroke-linejoin="round"/>
<polyline points="723.3,370.0 724.2,365.8 725.3,362.0" fill="none" stroke="#f7f7f7" stroke-width="1.2" stroke-linecap="round" stroke-linejoin="round"/>
<polyline points="730.0,366.7 729.7,363.3" fill="none" stroke="#f7f7f7" stroke-width="1.0" stroke-linecap="round" stroke-linejoin="round"/>
<polyline points="736.7,364.7 736.0,362.0" fill="none" stroke="#f7f7f7" stroke-width="1.0" stroke-linecap="round" stroke-linejoin="round"/>
<polyline points="716.7,372.0 718.3,368.7" fill="none" stroke="#f7f7f7" stroke-width="0.9" stroke-linecap="round" stroke-linejoin="round"/>
<polyline points="465.8,581.3 470.0,583.0 475.8,583.7" fill="none" stroke="#f7f7f7" stroke-width="1.5" stroke-linecap="round" stroke-linejoin="round"/>
<polyline points="502.5,575.3 503.0,578.3" fill="none" stroke="#f7f7f7" stroke-width="1.2" stroke-linecap="round" stroke-linejoin="round"/>
<polyline points="568.3,611.7 570.0,608.3" fill="none" stroke="#f7f7f7" stroke-width="1.2" stroke-linecap="round" stroke-linejoin="round"/>
<polyline points="573.7,627.0 575.8,625.0" fill="none" stroke="#f7f7f7" stroke-width="1.0" stroke-linecap="round" stroke-linejoin="round"/>
<polygon points="577.5,655 580.5,653.2 582,654 579,656" fill="#ff4a43"/>
<polygon points="583,651.5 585.5,650 586,651 584,652.3" fill="#ff4a43"/>
<polygon points="489.8,302.8 493,301 496,299.8 496.2,300.6 493,302.3 490.2,303.6" fill="#ff4a43"/>
<polygon points="707.5,413 710,412.3 711,413.3 708.5,414.2" fill="#256dff"/>
<polygon points="714,414 716.8,413.2 717.3,414.3 715,415" fill="#256dff"/>
<g fill="#b1b1b1">
<polygon points="134.8,553.7 138.5,556.2 143.5,557.5 149.8,562.5 157.2,562.5 167.2,565.0 177.2,567.4 184.7,568.7 187.9,571.2 187.9,647.2 182.2,646.7 175.9,644.3 172.2,641.0 167.2,639.3 163.5,641.8 162.2,644.8 159.7,649.7 153.5,651.0 152.2,646.0 156.0,642.8 159.7,639.8 157.2,639.3 151.0,644.3 147.3,651.0 144.3,658.5 138.5,662.7 133.5,667.7 127.8,672.2 122.8,675.2 122.3,673.4 127.3,669.7 132.3,664.7 133.5,658.5 131.0,656.0 124.8,657.2 117.3,656.0 113.6,649.7 108.6,648.5 104.9,643.5 103.6,637.3 106.1,631.0 111.1,628.5 117.3,626.0 119.8,619.8 118.6,614.8 113.6,613.6 106.1,614.8 99.9,613.6 96.1,606.1 101.1,602.4 108.6,598.6 112.3,598.6 115.3,602.9 118.6,602.4 119.3,597.9 116.8,594.4 111.1,593.6 107.4,588.6 102.4,583.7 101.1,578.7 107.4,577.4 112.3,572.4 114.8,566.2 122.3,560.0 129.8,557.5"/>
<polygon points="187.9,647.2 192.1,648.5 197.1,652.2 202.1,657.7 199.6,657.2 194.6,652.7 189.7,649.7"/>
<polygon points="204.1,654.7 207.1,652.7 211.6,658.5 215.8,664.7 213.3,664.2 209.6,660.2"/>
<polygon points="209.6,667.2 214.6,672.7 219.6,679.2 217.6,679.2 212.6,673.4"/>
<polygon points="222.1,672.2 225.3,677.7 226.1,682.7 224.1,681.7 223.1,677.2"/>
<polygon points="81.9,623.1 86.2,623.8 89.9,625.5 87.4,626.3 82.9,624.8"/>
<polygon points="98.1,648.2 102.4,648.2 102.4,650.0 98.6,649.7"/>
<polygon points="115.3,678.9 118.8,677.7 119.8,679.2 116.3,680.9"/>
<polygon points="106.9,682.9 110.3,681.7 111.1,682.9 107.9,684.4"/>
<polygon points="141.0,666.7 146.0,664.2 146.8,665.7 142.3,668.4"/>
<polygon points="151.0,672.2 155.2,669.7 156.0,671.2 152.2,673.4"/>
</g>
<g fill="#256dff">
<polygon points="271.1,615.8 273.1,614.1 276.4,614.1 277.5,616.1 276.4,618.5 273.5,618.7"/>
<polygon points="294.1,624.4 296.8,623.0 297.6,625.2 300.2,627.4 298.5,628.4 295.8,626.8"/>
<polygon points="308.5,630.9 315.5,630.9 315.5,632.1 308.5,632.0"/>
<polygon points="312.3,635.1 314.6,635.1 314.6,636.9 312.6,636.9"/>
<polygon points="317.2,634.1 320.3,635.1 324.6,635.1 327.0,637.8 325.7,639.6 322.6,639.6 320.6,637.5 317.9,635.9"/>
<polygon points="330.6,646.2 334.0,646.9 338.7,651.5 342.0,654.9 345.0,657.8 342.0,660.2 338.0,661.6 334.0,664.3 331.3,665.6 330.0,662.9 330.6,658.9 328.4,654.9 329.3,650.2"/>
</g>
<g font-family="Liberation Sans, sans-serif" font-weight="bold" font-size="10.3" text-anchor="middle" fill="#111" stroke="#ffffff" stroke-opacity="0.8" stroke-width="1.8" stroke-linejoin="round" paint-order="stroke">
<text transform="translate(121.5,317.9) scale(0.9,1)">WA</text>
<text transform="translate(114.0,378.7) scale(0.9,1)">OR</text>
<text transform="translate(182.0,376.2) scale(0.9,1)">ID</text>
<text transform="translate(252.0,321.5) scale(0.9,1)">MT</text>
<text transform="translate(268.5,391.0) scale(0.9,1)">WY</text>
<text transform="translate(158.3,446.2) scale(0.9,1)">NV</text>
<text transform="translate(223.0,453.5) scale(0.9,1)">UT</text>
<text transform="translate(114.7,484.9) scale(0.9,1)">CA</text>
<text transform="translate(224.2,524.5) scale(0.9,1)">AZ</text>
<text transform="translate(287.8,524.0) scale(0.9,1)">NM</text>
<text transform="translate(292.8,454.9) scale(0.9,1)">CO</text>
<text transform="translate(355.5,316.8) scale(0.9,1)">ND</text>
<text transform="translate(359.3,371.5) scale(0.9,1)">SD</text>
<text transform="translate(361.8,415.3) scale(0.9,1)">NE</text>
<text transform="translate(378.5,463.0) scale(0.9,1)">KS</text>
<text transform="translate(389.7,506.7) scale(0.9,1)">OK</text>
<text transform="translate(376.7,562.5) scale(0.9,1)">TX</text>
<text transform="translate(424.7,337.5) scale(0.9,1)">MN</text>
<text transform="translate(437.6,406.7) scale(0.9,1)">IA</text>
<text transform="translate(450.0,465.5) scale(0.9,1)">MO</text>
<text transform="translate(450.0,517.0) scale(0.9,1)">AR</text>
<text transform="translate(455.0,573.7) scale(0.9,1)">LA</text>
<text transform="translate(482.0,372.0) scale(0.9,1)">WI</text>
<text transform="translate(489.2,438.7) scale(0.9,1)">IL</text>
<text transform="translate(523.8,440.9) scale(0.9,1)">IN</text>
<text transform="translate(545.5,381.7) scale(0.9,1)">MI</text>
<text transform="translate(565.5,434.0) scale(0.9,1)">OH</text>
<text transform="translate(534.2,476.2) scale(0.9,1)">KY</text>
<text transform="translate(523.3,502.9) scale(0.9,1)">TN</text>
<text transform="translate(484.2,550.0) scale(0.9,1)">MS</text>
<text transform="translate(519.7,549.0) scale(0.9,1)">AL</text>
<text transform="translate(560.0,552.9) scale(0.9,1)">GA</text>
<text transform="translate(579.5,608.4) scale(0.9,1)">FL</text>
<text transform="translate(587.9,531.7) scale(0.9,1)">SC</text>
<text transform="translate(613.5,508.2) scale(0.9,1)">NC</text>
<text transform="translate(615.5,470.9) scale(0.9,1)">VA</text>
<text transform="translate(592.8,460.4) scale(0.9,1)">WV</text>
<text transform="translate(620.5,424.0) scale(0.9,1)">PA</text>
<text transform="translate(655.0,385.4) scale(0.9,1)">NY</text>
<text transform="translate(635.0,449.0) scale(0.9,1)">MD</text>
<text transform="translate(653.8,454.0) scale(0.9,1)">DE</text>
<text transform="translate(666.3,435.4) scale(0.9,1)">NJ</text>
<text transform="translate(685.5,368.7) scale(0.9,1)">VT</text>
<text transform="translate(704.5,383.4) scale(0.9,1)">NH</text>
<text transform="translate(695.3,401.2) scale(0.9,1)">MA</text>
<text transform="translate(728.3,354.5) scale(0.9,1)">ME</text>
<text transform="translate(153.6,612.3) scale(0.9,1)">AK</text>
<text transform="translate(336.9,659.9) scale(0.9,1)">HI</text>
</g>
</svg>
<!-- legend -->
<div class="abs" style="left:297px;width:200px;top:738px;text-align:center;font-weight:bold;font-size:20px;line-height:22px;"><span style="display:inline-block;transform:scaleX(0.79);">CNN Projection</span></div>
<svg class="abs" style="left:0;top:764px" width="822" height="47" viewBox="0 764 822 47">
<defs>
<pattern id="lb" width="3.2" height="3.2" patternUnits="userSpaceOnUse" patternTransform="rotate(-50)"><rect width="3.2" height="3.2" fill="#256dff"/><rect width="3.2" height="1.3" fill="#e6efff"/></pattern>
<pattern id="lr" width="3.2" height="3.2" patternUnits="userSpaceOnUse" patternTransform="rotate(-50)"><rect width="3.2" height="3.2" fill="#ff4a43"/><rect width="3.2" height="1.3" fill="#ffe7e5"/></pattern>
</defs>
<g stroke="#1a1a1a" stroke-width="1">
<rect x="292" y="770.5" width="18.5" height="11.5" fill="#256dff"/>
<rect x="323" y="770.5" width="18" height="11.5" fill="url(#lb)"/>
<rect x="386.8" y="770.5" width="18.5" height="11.5" fill="#ff4a43"/>
<rect x="418.3" y="770.5" width="17.5" height="11.5" fill="url(#lr)"/>
<rect x="480.3" y="770.5" width="18" height="11.5" fill="#b1b1b1"/>
</g>
<g font-family="Liberation Sans, sans-serif" font-size="11.3" fill="#0c0c0c">
<text x="261.5" y="781">Dem</text>
<text x="360" y="781">Rep</text>
<text x="301.3" y="796" text-anchor="middle">Win</text>
<text x="332" y="796" text-anchor="middle">Flip</text>
<text x="396" y="796" text-anchor="middle">Win</text>
<text x="427" y="796" text-anchor="middle">Flip</text>
<text x="489.5" y="796" text-anchor="middle">Processing results</text>
</g>
</svg>
</body></html>
